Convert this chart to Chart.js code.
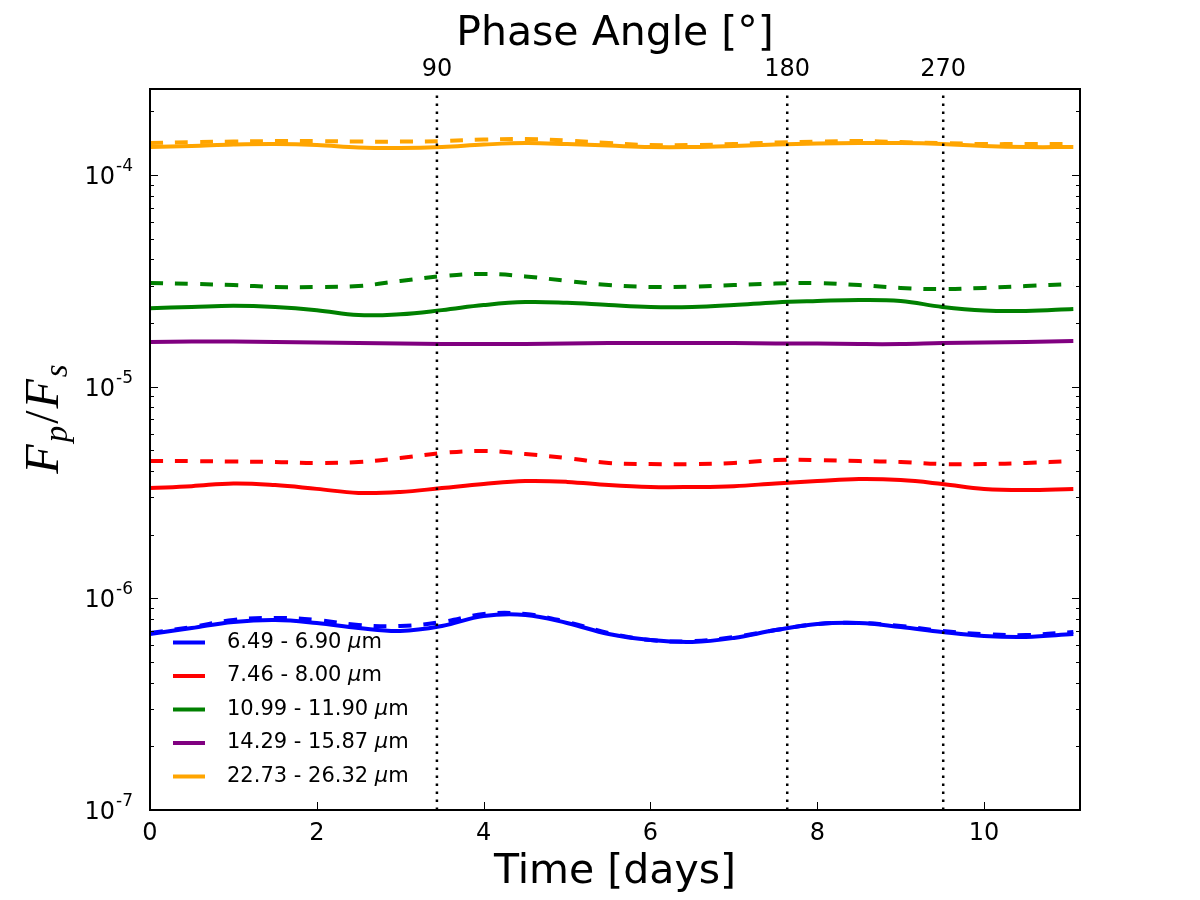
<!DOCTYPE html>
<html><head><meta charset="utf-8">
<script src="https://cdn.jsdelivr.net/npm/chart.js@4.4.0/dist/chart.umd.min.js"></script>
<style>html,body{margin:0;padding:0;background:#fff;}canvas{display:block;}</style>
</head><body>
<canvas id="c" width="1200" height="900"></canvas>
<script>
// ---- data ----
const days = [0,0.5,1,1.5,2,2.5,3,3.5,4,4.5,5,5.5,6,6.5,7,7.5,8,8.5,9,9.5,10,10.5,11.07];
const blueSolid   = [6.78e-7,7.24e-7,7.73e-7,7.90e-7,7.65e-7,7.24e-7,7.01e-7,7.40e-7,8.25e-7,8.34e-7,7.65e-7,6.78e-7,6.35e-7,6.22e-7,6.50e-7,7.08e-7,7.56e-7,7.65e-7,7.32e-7,6.93e-7,6.64e-7,6.57e-7,6.78e-7];
const blueDashed  = [6.86e-7,7.32e-7,7.90e-7,8.08e-7,7.90e-7,7.48e-7,7.40e-7,7.73e-7,8.43e-7,8.43e-7,7.73e-7,6.86e-7,6.35e-7,6.28e-7,6.57e-7,7.08e-7,7.56e-7,7.65e-7,7.40e-7,7.01e-7,6.78e-7,6.71e-7,6.93e-7];
const redSolid    = [3.32e-6,3.39e-6,3.49e-6,3.43e-6,3.29e-6,3.15e-6,3.18e-6,3.32e-6,3.47e-6,3.58e-6,3.55e-6,3.43e-6,3.36e-6,3.36e-6,3.39e-6,3.49e-6,3.58e-6,3.66e-6,3.62e-6,3.47e-6,3.29e-6,3.25e-6,3.29e-6];
const redDashed   = [4.45e-6,4.45e-6,4.43e-6,4.41e-6,4.36e-6,4.41e-6,4.60e-6,4.86e-6,4.97e-6,4.81e-6,4.60e-6,4.36e-6,4.31e-6,4.31e-6,4.36e-6,4.50e-6,4.50e-6,4.45e-6,4.41e-6,4.31e-6,4.31e-6,4.36e-6,4.45e-6];
const greenSolid  = [2.35e-5,2.38e-5,2.41e-5,2.38e-5,2.30e-5,2.18e-5,2.20e-5,2.30e-5,2.43e-5,2.51e-5,2.49e-5,2.43e-5,2.38e-5,2.38e-5,2.43e-5,2.50e-5,2.54e-5,2.57e-5,2.54e-5,2.38e-5,2.29e-5,2.28e-5,2.33e-5];
const greenDashed = [3.09e-5,3.06e-5,3.02e-5,2.96e-5,2.96e-5,2.99e-5,3.16e-5,3.33e-5,3.41e-5,3.32e-5,3.16e-5,3.02e-5,2.96e-5,2.97e-5,3.02e-5,3.07e-5,3.09e-5,3.02e-5,2.93e-5,2.89e-5,2.93e-5,2.99e-5,3.06e-5];
const purpleSolid = [1.625e-5,1.634e-5,1.634e-5,1.625e-5,1.617e-5,1.608e-5,1.599e-5,1.590e-5,1.590e-5,1.590e-5,1.599e-5,1.608e-5,1.608e-5,1.608e-5,1.608e-5,1.599e-5,1.599e-5,1.590e-5,1.590e-5,1.608e-5,1.617e-5,1.625e-5,1.643e-5];
const orangeSolid = [1.356e-4,1.371e-4,1.393e-4,1.401e-4,1.386e-4,1.349e-4,1.341e-4,1.356e-4,1.393e-4,1.416e-4,1.401e-4,1.378e-4,1.356e-4,1.356e-4,1.371e-4,1.393e-4,1.409e-4,1.416e-4,1.416e-4,1.401e-4,1.371e-4,1.356e-4,1.356e-4];
const orangeDashed= [1.416e-4,1.431e-4,1.439e-4,1.447e-4,1.447e-4,1.439e-4,1.439e-4,1.447e-4,1.471e-4,1.479e-4,1.455e-4,1.416e-4,1.386e-4,1.386e-4,1.401e-4,1.424e-4,1.439e-4,1.447e-4,1.431e-4,1.416e-4,1.401e-4,1.401e-4,1.401e-4];

const phaseDays   = [3.44, 7.64, 9.51];
const phaseLabels = ['90', '180', '270'];
const yDecades    = [-7, -6, -5, -4];
const bandLabels  = ['6.49 - 6.90 ', '7.46 - 8.00 ', '10.99 - 11.90 ', '14.29 - 15.87 ', '22.73 - 26.32 '];
const bandColors  = ['#0000ff', '#ff0000', '#008000', '#800080', '#ffa500'];
const yMin = 1e-7, yMax = 2.55e-4, xMin = 0, xMax = 11.15;

const solidSeries  = [blueSolid, redSolid, greenSolid, purpleSolid, orangeSolid];
const dashedSeries = [blueDashed, redDashed, greenDashed, null, orangeDashed];

const pts = arr => days.map((d, i) => ({x: d, y: arr[i]}));
const datasets = [];
phaseDays.forEach(d => datasets.push({
  data: [{x: d, y: yMin}, {x: d, y: yMax}], borderColor: '#000', borderWidth: 2.5,
  borderDash: [2.6, 5.4], pointRadius: 0, tension: 0, order: 0, xAxisID: 'x', yAxisID: 'y'
}));
dashedSeries.forEach((s, i) => { if (s) datasets.push({
  data: pts(s), borderColor: bandColors[i], borderWidth: 4, borderDash: [13, 12],
  pointRadius: 0, tension: 0.4, order: 1, xAxisID: 'x', yAxisID: 'y'
}); });
solidSeries.forEach((s, i) => datasets.push({
  data: pts(s), borderColor: bandColors[i], borderWidth: 4,
  pointRadius: 0, tension: 0.4, order: 2, xAxisID: 'x', yAxisID: 'y'
}));

const FONT = '"DejaVu Sans", "Liberation Sans", sans-serif';

const decor = {
  id: 'decor',
  afterDraw(chart) {
    const ctx = chart.ctx, a = chart.chartArea, xs = chart.scales.x, ys = chart.scales.y;
    ctx.save();
    // ticks
    ctx.strokeStyle = '#000'; ctx.lineWidth = 1;
    ctx.beginPath();
    yDecades.forEach(e => {
      for (let k = 1; k < 10; k++) {
        const v = k * Math.pow(10, e);
        if (v < yMin || v > yMax) continue;
        const py = Math.round(ys.getPixelForValue(v)) + 0.5;
        const len = k === 1 ? 8 : 4;
        ctx.moveTo(a.left, py); ctx.lineTo(a.left + len, py);
        ctx.moveTo(a.right, py); ctx.lineTo(a.right - len, py);
      }
    });
    xs.ticks.forEach(t => {
      const px = Math.round(xs.getPixelForValue(t.value)) + 0.5;
      ctx.moveTo(px, a.bottom); ctx.lineTo(px, a.bottom - 8);
    });
    ctx.stroke();
    // frame
    ctx.lineWidth = 2;
    ctx.strokeRect(a.left, a.top, a.right - a.left, a.bottom - a.top);
    // y tick labels 10^e
    ctx.fillStyle = '#000';
    ctx.textBaseline = 'alphabetic';
    ctx.textAlign = 'left';
    yDecades.forEach(e => {
      const py = ys.getPixelForValue(Math.pow(10, e));
      const base = '10', ex = String(e);
      ctx.font = '24px ' + FONT; const wb = ctx.measureText(base).width;
      ctx.font = '17px ' + FONT; const we = ctx.measureText(ex).width;
      const x0 = a.left - 18 - we - wb;
      ctx.font = '24px ' + FONT; ctx.fillText(base, x0, py + 9);
      ctx.font = '17px ' + FONT; ctx.fillText(ex, x0 + wb + 1, py - 4);
    });
    // y axis title F_p/F_s
    ctx.save();
    ctx.translate(58, 418);
    ctx.rotate(-Math.PI / 2);
    const big = 'italic 48px "Liberation Serif", "DejaVu Serif", serif';
    const sub = 'italic 33px "Liberation Serif", "DejaVu Serif", serif';
    const rom = '48px "Liberation Serif", "DejaVu Serif", serif';
    const parts = [['F', big, 0], ['p', sub, 9], ['/', rom, 0], ['F', big, 0], ['s', sub, 9]];
    let tw = 0; const ws = parts.map(p => { ctx.font = p[1]; const w = ctx.measureText(p[0]).width + 2; tw += w; return w; });
    let cx = -tw / 2;
    ctx.textAlign = 'left';
    parts.forEach((p, i) => { ctx.font = p[1]; ctx.fillText(p[0], cx, p[2]); cx += ws[i]; });
    ctx.restore();
    // legend
    const rowH = 33.5;
    bandLabels.forEach((lab, i) => {
      const ry = a.bottom - rowH * (bandLabels.length - i);
      ctx.strokeStyle = bandColors[i]; ctx.lineWidth = 4; ctx.setLineDash([]);
      ctx.beginPath(); ctx.moveTo(a.left + 23, ry); ctx.lineTo(a.left + 55, ry); ctx.stroke();
      ctx.fillStyle = '#000'; ctx.textBaseline = 'middle'; ctx.textAlign = 'left';
      let tx = a.left + 77;
      ctx.font = '21px ' + FONT; ctx.fillText(lab, tx, ry); tx += ctx.measureText(lab).width;
      ctx.font = 'italic 21px ' + FONT; ctx.fillText('\u03bc', tx, ry); tx += ctx.measureText('\u03bc').width;
      ctx.font = '21px ' + FONT; ctx.fillText('m', tx, ry);
    });
    ctx.restore();
  }
};

new Chart(document.getElementById('c').getContext('2d'), {
  type: 'line',
  data: { datasets },
  options: {
    responsive: false, animation: false, devicePixelRatio: 1,
    layout: { padding: { left: 0, right: 120, top: 0, bottom: 0 } },
    plugins: { legend: { display: false }, tooltip: { enabled: false }, title: { display: false } },
    elements: { point: { radius: 0 } },
    scales: {
      x: {
        type: 'linear', position: 'bottom', min: xMin, max: xMax,
        grid: { display: false, drawTicks: false }, border: { display: false },
        ticks: { stepSize: 2, includeBounds: false, font: { family: FONT, size: 24 }, color: '#000', padding: 9, maxRotation: 0, autoSkip: false },
        title: { display: true, text: 'Time [days]', font: { family: FONT, size: 41 }, color: '#000', padding: { top: 0, bottom: 3 } },
        afterFit: s => { s.height = 90; }
      },
      x2: {
        type: 'linear', position: 'top', min: xMin, max: xMax,
        grid: { display: false, drawTicks: false }, border: { display: false },
        afterBuildTicks: s => { s.ticks = phaseDays.map(v => ({ value: v })); },
        ticks: { callback: (v, i) => phaseLabels[i], font: { family: FONT, size: 24 }, color: '#000', padding: 5, maxRotation: 0, autoSkip: false },
        title: { display: true, text: 'Phase Angle [\u00b0]', font: { family: FONT, size: 41 }, color: '#000', padding: { top: 10, bottom: 0 } },
        afterFit: s => { s.height = 89; }
      },
      y: {
        type: 'logarithmic', position: 'left', min: yMin, max: yMax,
        grid: { display: false, drawTicks: false }, border: { display: false },
        ticks: { display: false },
        afterFit: s => { s.width = 150; }
      }
    }
  },
  plugins: [decor]
});
</script>
</body></html>
